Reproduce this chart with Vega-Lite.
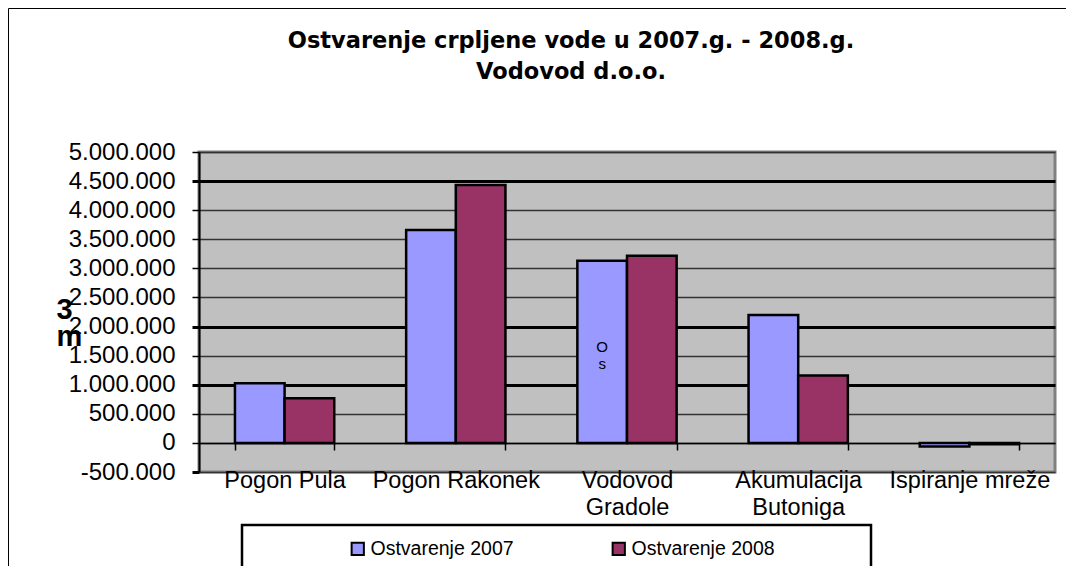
{
  "$schema": "https://vega.github.io/schema/vega-lite/v6.json",
  "autosize": {"type": "none"},
  "padding": {"left": 199, "top": 152, "right": 11, "bottom": 94},
  "width": 856,
  "height": 320,
  "background": "white",
  "config": {
    "locale": {"number": {"decimal": ",", "thousands": ".", "grouping": [3], "currency": ["", ""], "minus": "-"}},
    "view": {"fill": "#C0C0C0", "stroke": "#808080", "strokeWidth": 3},
    "font": "Liberation Sans"
  },
  "title": {
    "text": ["Ostvarenje crpljene vode u 2007.g. - 2008.g.", "Vodovod d.o.o."],
    "font": "DejaVu Sans",
    "fontWeight": "bold",
    "fontSize": 22.5,
    "lineHeight": 31,
    "color": "black",
    "anchor": "middle",
    "frame": "group",
    "dx": -56,
    "offset": -76
  },
  "datasets": {
    "bars": [
      {"category": "Pogon Pula", "series": "Ostvarenje 2007", "value": 1025000},
      {"category": "Pogon Pula", "series": "Ostvarenje 2008", "value": 768000},
      {"category": "Pogon Rakonek", "series": "Ostvarenje 2007", "value": 3660000},
      {"category": "Pogon Rakonek", "series": "Ostvarenje 2008", "value": 4433000},
      {"category": "Vodovod Gradole", "series": "Ostvarenje 2007", "value": 3132000},
      {"category": "Vodovod Gradole", "series": "Ostvarenje 2008", "value": 3218000},
      {"category": "Akumulacija Butoniga", "series": "Ostvarenje 2007", "value": 2199000},
      {"category": "Akumulacija Butoniga", "series": "Ostvarenje 2008", "value": 1157000},
      {"category": "Ispiranje mreže", "series": "Ostvarenje 2007", "value": -60000},
      {"category": "Ispiranje mreže", "series": "Ostvarenje 2008", "value": -25000}
    ],
    "notes": [
      {"category": "Vodovod Gradole", "series": "Ostvarenje 2007", "value": 1560000, "note": "O\ns"}
    ]
  },
  "encoding": {
    "x": {
      "field": "category",
      "type": "nominal",
      "sort": ["Pogon Pula", "Pogon Rakonek", "Vodovod Gradole", "Akumulacija Butoniga", "Ispiranje mreže"],
      "scale": {"paddingInner": 0.42, "paddingOuter": 0.21},
      "axis": {
        "title": null,
        "labelAngle": 0,
        "offset": -29,
        "domainColor": "black",
        "domainWidth": 1.5,
        "tickColor": "black",
        "tickWidth": 1.5,
        "tickSize": 7,
        "tickBand": "extent",
        "labelPadding": 18,
        "labelFontSize": 23.5,
        "labelColor": "black",
        "labelLineHeight": 27,
        "labelLimit": 300,
        "labelExpr": "datum.label == 'Vodovod Gradole' ? ['Vodovod', 'Gradole'] : datum.label == 'Akumulacija Butoniga' ? ['Akumulacija', 'Butoniga'] : datum.label"
      }
    },
    "xOffset": {"field": "series", "type": "nominal", "sort": ["Ostvarenje 2007", "Ostvarenje 2008"]},
    "y": {
      "field": "value",
      "type": "quantitative",
      "scale": {"domain": [-500000, 5000000], "nice": false, "zero": false},
      "axis": {
        "values": [-500000, 0, 500000, 1000000, 1500000, 2000000, 2500000, 3000000, 3500000, 4000000, 4500000, 5000000],
        "format": ",.0f",
        "title": ["3", "m"],
        "titleAngle": 0,
        "titleFontSize": 29,
        "titleFontWeight": "bold",
        "titleColor": "black",
        "titleAlign": "left",
        "titleBaseline": "alphabetic",
        "titleLineHeight": 27,
        "titleX": -143,
        "titleY": 166,
        "domainColor": "black",
        "domainWidth": 2,
        "tickColor": "black",
        "tickSize": 7,
        "tickWidth": {"condition": {"test": "indexof([4500000, 2000000, 1000000, -500000], datum.value) >= 0", "value": 3}, "value": 1.5},
        "labelFontSize": 24,
        "labelColor": "black",
        "labelPadding": 17,
        "grid": true,
        "gridColor": {"condition": {"test": "indexof([4500000, 2000000, 1000000], datum.value) >= 0", "value": "black"}, "value": "#333333"},
        "gridWidth": {"condition": {"test": "indexof([4500000, 2000000, 1000000], datum.value) >= 0", "value": 3}, "value": 1.5},
        "gridOpacity": 1
      }
    }
  },
  "layer": [
    {
      "data": {"name": "bars"},
      "mark": {"type": "bar", "stroke": "black", "strokeWidth": 2.5},
      "encoding": {
        "color": {
          "field": "series",
          "type": "nominal",
          "scale": {"domain": ["Ostvarenje 2007", "Ostvarenje 2008"], "range": ["#9999FF", "#993366"]},
          "legend": {
            "title": "\u00a0",
            "titleOrient": "right",
            "titlePadding": 82,
            "titleFontSize": 10,
            "orient": "none",
            "legendX": 43,
            "legendY": 373,
            "direction": "horizontal",
            "columns": 2,
            "columnPadding": 3,
            "padding": 14,
            "symbolOffset": 92,
            "strokeColor": "black",
            "symbolType": "square",
            "symbolSize": 150,
            "symbolStrokeColor": "black",
            "symbolStrokeWidth": 2,
            "symbolOpacity": 1,
            "labelFontSize": 19.5,
            "labelColor": "black",
            "labelOffset": 3,
            "encode": {"legend": {"update": {"strokeWidth": {"value": 2.5}}}}
          }
        }
      }
    },
    {
      "data": {"name": "notes"},
      "mark": {"type": "text", "lineBreak": "\n", "fontSize": 15, "lineHeight": 17, "baseline": "alphabetic", "color": "black"},
      "encoding": {"text": {"field": "note"}}
    },
    {
      "data": {"name": "notes"},
      "mark": {"type": "point", "opacity": 0},
      "encoding": {
        "shape": {
          "field": "series",
          "type": "nominal",
          "legend": {
            "title": null,
            "orient": "none",
            "legendX": -191,
            "legendY": -144,
            "padding": 700,
            "strokeColor": "black",
            "symbolOpacity": 0,
            "labelExpr": "''",
            "encode": {"legend": {"update": {"strokeWidth": {"value": 3}}}}
          }
        }
      }
    }
  ]
}
